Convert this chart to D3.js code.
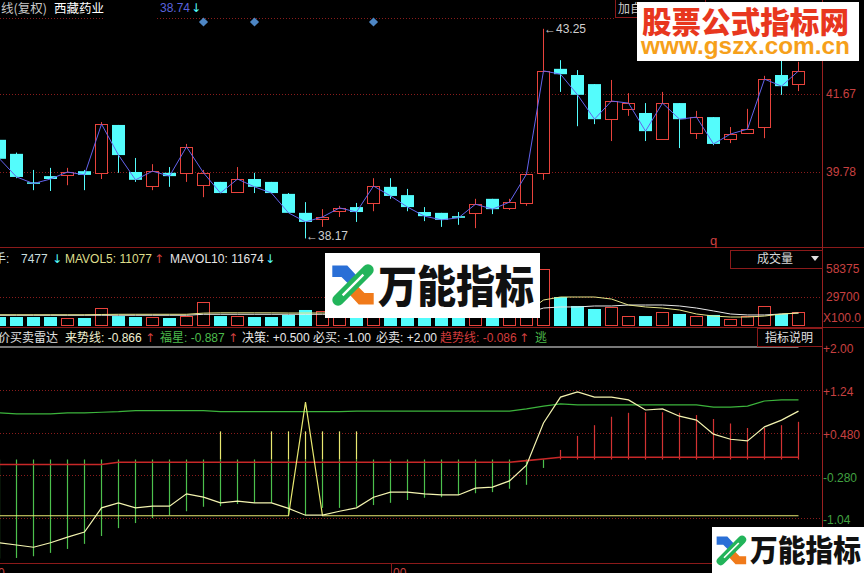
<!DOCTYPE html>
<html><head><meta charset="utf-8">
<script src="https://cdn.jsdelivr.net/npm/d3@7"></script>
<style>html,body{margin:0;padding:0;background:#000;overflow:hidden}svg{display:block}</style>
</head><body>
<svg id="c" width="864" height="573"></svg>
<script>
// ---------- DATA ----------
const opens  = [40.56,40.22,39.53,39.68,39.71,39.80,39.76,40.92,39.78,39.44,39.76,39.76,39.47,39.54,39.30,39.61,39.54,39.25,38.79,38.64,38.83,38.93,39.03,39.42,39.22,38.81,38.79,38.71,38.79,39.13,38.91,39.03,39.76,42.28,42.13,41.91,41.06,41.31,41.21,40.58,41.45,40.73,41.11,40.58,40.73,40.87,42.13,41.91];
const highs  = [40.60,40.25,39.83,39.88,39.88,39.83,40.99,40.92,40.12,39.97,39.90,40.46,39.83,39.54,39.90,39.76,39.54,39.27,39.05,38.88,38.96,39.03,39.63,39.63,39.37,38.93,38.79,38.81,39.13,39.13,39.13,39.73,43.25,42.49,42.25,41.91,42.01,41.69,41.45,41.72,41.45,41.26,41.11,40.87,41.31,42.11,42.55,42.45];
const lows   = [40.05,39.63,39.34,39.32,39.46,39.34,39.61,39.76,39.54,39.34,39.42,39.54,39.17,39.27,39.30,39.27,39.27,38.79,38.17,38.45,38.69,38.57,38.83,39.13,38.83,38.59,38.45,38.50,38.42,38.76,38.86,38.96,39.59,41.72,40.89,40.94,40.53,41.14,40.53,40.58,40.36,40.58,40.43,40.48,40.70,40.60,41.65,41.74];
const closes = [40.10,39.66,39.50,39.61,39.78,39.71,40.94,40.19,39.59,39.80,39.68,40.39,39.76,39.27,39.61,39.42,39.27,38.79,38.57,38.69,38.91,38.81,39.44,39.20,38.93,38.71,38.62,38.67,39.00,38.88,39.05,39.73,42.23,42.15,41.65,41.06,41.50,41.45,40.77,41.45,41.06,41.11,40.46,40.70,40.82,42.03,41.86,42.23];
const volumes = [9200,9200,9200,9200,8200,8200,18400,10200,9200,9200,8200,10200,24600,10200,10200,9200,9200,11300,16400,15400,9200,10200,13300,10200,11300,9200,9200,10200,11300,12300,9200,21500,58375,29700,20500,17400,19500,10200,10200,14300,12300,10200,11300,7200,10200,20500,12300,14300];
const mavol5  = [11500,11500,11500,11500,11500,11500,11800,12000,12000,12000,12000,12000,13200,13500,13500,13500,13500,13300,13300,13300,13300,13000,13000,12800,12500,12000,11500,11000,11000,11000,11000,14000,26600,29700,29700,29700,27600,21500,19500,18400,16400,12300,10200,9200,9200,10200,12300,13300];
const mavol10 = [11000,11000,11000,11000,11000,11000,11000,11000,11000,11000,11000,11000,12000,12000,12000,12000,12000,12000,12000,12000,12000,12000,12000,12000,12000,12000,11800,11500,11500,11500,11500,13000,18400,19500,19500,20500,20500,21500,21500,21500,20500,18400,15400,12300,11300,11300,12300,13300];

const priceTicks = [39.78, 41.67, 43.56];
const priceTickLabels = ["39.78", "41.67", ""];
const volTicks = [58375, 29700];
const volTickLabels = ["58375", "29700"];
const radarTicks = [2.00, 1.24, 0.48, -0.28, -1.04];
const radarTickLabels = ["+2.00", "+1.24", "+0.480", "-0.280", "-1.04"];

const laiShi  = [-1.48,-1.52,-1.56,-1.48,-1.38,-1.29,-0.86,-0.77,-0.86,-0.83,-0.83,-0.61,-0.67,-0.77,-0.74,-0.77,-0.77,-0.87,-0.99,-0.99,-0.92,-0.86,-0.67,-0.58,-0.58,-0.61,-0.63,-0.63,-0.51,-0.49,-0.38,-0.10,0.65,1.11,1.20,1.11,1.11,1.06,0.88,0.90,0.77,0.70,0.45,0.36,0.33,0.58,0.70,0.86];
const fuXing  = [0.83,0.81,0.81,0.81,0.83,0.83,0.84,0.85,0.87,0.87,0.87,0.87,0.87,0.85,0.85,0.85,0.85,0.85,0.85,0.85,0.85,0.86,0.86,0.86,0.86,0.86,0.86,0.86,0.86,0.86,0.86,0.90,0.95,0.99,0.97,0.97,0.97,0.97,0.97,0.97,0.97,0.97,0.93,0.93,0.95,1.04,1.06,1.06];
const trend   = [-0.09,-0.09,-0.09,-0.09,-0.09,-0.09,-0.09,-0.05,-0.05,-0.05,-0.05,-0.05,-0.05,-0.05,-0.05,-0.05,-0.05,-0.05,-0.05,-0.05,-0.05,-0.05,-0.05,-0.05,-0.05,-0.05,-0.05,-0.05,-0.05,-0.05,-0.05,-0.02,0.01,0.04,0.04,0.04,0.04,0.04,0.04,0.04,0.04,0.04,0.04,0.04,0.04,0.04,0.04,0.04];
const hist    = [-1.76,-1.75,-1.72,-1.66,-1.59,-1.50,-1.36,-1.22,-1.13,-1.04,-0.99,-0.92,-0.84,-0.83,-0.79,-0.77,-0.77,-0.99,-0.99,-0.86,-0.86,-0.84,-0.81,-0.77,-0.72,-0.68,-0.67,-0.63,-0.60,-0.58,-0.52,-0.45,-0.15,0.17,0.42,0.61,0.76,0.83,0.84,0.84,0.83,0.79,0.72,0.64,0.56,0.56,0.61,0.67];
const biMai   = [-1,-1,-1,-1,-1,-1,-1,-1,-1,-1,-1,-1,-1,-1,-1,-1,-1,-1,1.02,-1,-1,-1,-1,-1,-1,-1,-1,-1,-1,-1,-1,-1,-1,-1,-1,-1,-1,-1,-1,-1,-1,-1,-1,-1,-1,-1,-1,-1];
const biMaiSell = 2.00;
const signalIdx = [13,16,17,18,19,20,21];
const signalVal = 0.5;
const markIdx = [12,15,22];

// ---------- SETUP ----------
const F = '"Liberation Sans", Arial, "Noto Sans CJK SC", sans-serif';
const FC = '"Noto Sans CJK SC", "Liberation Sans", sans-serif';
const RED = '#e8433c', CYAN = '#54fcfc', GRID = '#8a1c1c', AXR = '#c84040', GRN = '#4cc04c';
const svg = d3.select('#c');
svg.append('rect').attr('width',864).attr('height',573).attr('fill','#000');

const idx = d3.range(closes.length);
const x = d3.scaleLinear().domain([0, idx.length-1]).range([-1, 798]);
const X = i => Math.round(x(i));
const yP = d3.scaleLinear().domain([37.89, 43.56]).range([250, 16]);
const yV = d3.scaleLinear().domain([0, 58375]).range([326, 269]);
const yR = d3.scaleLinear().domain([-1.04, 2.00]).range([518, 347]);

function dotted(y, x1, x2){
  svg.append('line').attr('x1',x1).attr('x2',x2).attr('y1',Math.round(y)+0.5).attr('y2',Math.round(y)+0.5)
    .attr('stroke',GRID).attr('stroke-dasharray','1,2');
}
function solid(x1,y1,x2,y2,c){
  svg.append('line').attr('x1',x1).attr('y1',y1).attr('x2',x2).attr('y2',y2).attr('stroke',c||'#8b1a1a');
}
function txt(t,xx,yy,col,size,fam,anchor){
  return svg.append('text').attr('x',xx).attr('y',yy).attr('fill',col).attr('font-size',size||12)
    .attr('font-family',fam||F).attr('text-anchor',anchor||'start').text(t);
}

// ---------- GRID / FRAME ----------
priceTicks.forEach((t,k)=>{
  if(k===2){ dotted(yP(t)+2,0,103); dotted(yP(t)+2,157,615); }
  else dotted(yP(t),0,822);
});
dotted(297,0,822);
radarTicks.slice(1).forEach(t=>dotted(yR(t),0,822));
solid(0,247.5,864,247.5);
solid(0,327.5,864,327.5);
solid(0,563.5,864,563.5);
solid(822.5,0,822.5,563.5,'#9a2020');
solid(391.5,563,391.5,573);

// ---------- MAIN CANDLES ----------
const gC = svg.append('g');
idx.forEach(i=>{
  const o=opens[i], c=closes[i], h=highs[i], l=lows[i];
  const up = c >= o;
  const xc = X(i);
  const yt = yP(Math.max(o,c)), yb = yP(Math.min(o,c));
  const bh = Math.max(1, yb-yt);
  if(up){
    gC.append('line').attr('x1',xc+0.5).attr('x2',xc+0.5).attr('y1',yP(h)).attr('y2',yt).attr('stroke',RED);
    gC.append('line').attr('x1',xc+0.5).attr('x2',xc+0.5).attr('y1',yt+bh).attr('y2',yP(l)).attr('stroke',RED);
    gC.append('rect').attr('x',xc-5.5).attr('y',Math.round(yt)+0.5).attr('width',12).attr('height',Math.max(1,Math.round(bh)))
      .attr('fill','#000').attr('stroke',RED);
  } else {
    gC.append('line').attr('x1',xc+0.5).attr('x2',xc+0.5).attr('y1',yP(h)).attr('y2',yP(l)).attr('stroke',CYAN);
    gC.append('rect').attr('x',xc-6).attr('y',yt).attr('width',13).attr('height',Math.max(1.5,bh)).attr('fill',CYAN);
  }
});
svg.append('path').attr('d', d3.line().x(i=>X(i)+0.5).y(i=>yP(closes[i]))(idx))
  .attr('fill','none').attr('stroke','#6464ee').attr('stroke-width',1);

// diamonds
markIdx.forEach(i=>{
  svg.append('path').attr('d', d3.symbol(d3.symbolSquare, 42)())
    .attr('transform',`translate(${X(i)+0.5},22) rotate(45)`).attr('fill','#4d86c4');
});

// extremes
const iMax = d3.maxIndex(highs), iMin = d3.minIndex(lows);
txt('←'+highs[iMax].toFixed(2), X(iMax)+1, yP(highs[iMax])+4, '#cfcfcf', 12);
txt('←'+lows[iMin].toFixed(2), X(iMin)+1, yP(lows[iMin])+2, '#cfcfcf', 12);

// price axis
{
  const ax = d3.axisRight(yP).tickValues(priceTicks.slice(0,2)).tickSize(0).tickPadding(4).tickFormat((d,k)=>priceTickLabels[k]);
  const g = svg.append('g').attr('transform','translate(822,0)').call(ax);
  g.select('.domain').remove();
  g.selectAll('text').attr('font-family',F).attr('font-size',12).attr('fill',AXR);
}

// header
svg.append('rect').attr('x',615.5).attr('y',-1).attr('width',90).attr('height',18.5).attr('fill','#000').attr('stroke','#8b1a1a');
txt('加自',618,13,'#c8c8c8',12,FC);
txt('线(复权)',1,13,'#c8c8c8',12.5,FC);
txt('西藏药业',54,13,'#ffffff',12.5,FC);
txt('38.74',160,12,'#5a62dc',12);
txt('↓',191,12,CYAN,12,'DejaVu Sans');
txt('q',710,245,'#d04040',13);

// ---------- VOLUME ----------
const gV = svg.append('g');
idx.forEach(i=>{
  const up = closes[i] >= opens[i];
  const xc = X(i), yt = yV(volumes[i]), h = yV(0)-yt;
  if(up) gV.append('rect').attr('x',xc-5.5).attr('y',Math.round(yt)+0.5).attr('width',12).attr('height',Math.round(h)-1)
      .attr('fill','#000').attr('stroke',RED);
  else gV.append('rect').attr('x',xc-6).attr('y',yt).attr('width',13).attr('height',h).attr('fill',CYAN);
});
svg.append('path').attr('d', d3.line().x(i=>X(i)+0.5).y(i=>yV(mavol10[i]))(idx)).attr('fill','none').attr('stroke','#e8e8e8');
svg.append('path').attr('d', d3.line().x(i=>X(i)+0.5).y(i=>yV(mavol5[i]))(idx)).attr('fill','none').attr('stroke','#e6e68a');
{
  const ax = d3.axisRight(yV).tickValues(volTicks).tickSize(0).tickPadding(4).tickFormat((d,k)=>volTickLabels[k]);
  const g = svg.append('g').attr('transform','translate(822,0)').call(ax);
  g.select('.domain').remove();
  g.selectAll('text').attr('font-family',F).attr('font-size',12).attr('fill',AXR);
}
txt('X100.0',823,322,AXR,12);
svg.append('rect').attr('x',730.5).attr('y',250.5).attr('width',92).attr('height',18).attr('fill','#000').attr('stroke','#8b1a1a');
txt('成交量',757,263,'#d8d8d8',12,FC);
svg.append('path').attr('d','M811,256 L819,256 L815,261 Z').attr('fill','#e0e0e0');
txt('总手:',-18,263,'#c8dede',12,F);
txt('7477',21,263,'#c8dede',12);
txt('↓',52,263,CYAN,12,'DejaVu Sans');
txt('MAVOL5: 11077',65,263,'#dede8c',12);
txt('↑',154,263,'#d04040',12,'DejaVu Sans');
txt('MAVOL10: 11674',170,263,'#e6e6e6',12);
txt('↓',265,263,CYAN,12,'DejaVu Sans');

// ---------- RADAR INDICATOR ----------
const gR = svg.append('g');
idx.forEach(i=>{
  const v = hist[i];
  gR.append('line').attr('x1',X(i)+0.5).attr('x2',X(i)+0.5).attr('y1',yR(0)).attr('y2',yR(v))
    .attr('stroke', v<0 ? GRN : '#d23232').attr('stroke-width',1.2);
});
signalIdx.forEach(i=>{
  gR.append('line').attr('x1',X(i)+0.5).attr('x2',X(i)+0.5).attr('y1',yR(0)).attr('y2',yR(signalVal))
    .attr('stroke','#e8e870').attr('stroke-width',1.2);
});
const lineR = arr => d3.line().x(i=>X(i)+0.5).y(i=>yR(arr[i]))(idx);
svg.append('path').attr('d',lineR(fuXing)).attr('fill','none').attr('stroke','#3cb43c').attr('stroke-width',1.2);
svg.append('path').attr('d',lineR(trend)).attr('fill','none').attr('stroke','#c82828').attr('stroke-width',1.6);
svg.append('path').attr('d',lineR(idx.map(()=>biMaiSell))).attr('fill','none').attr('stroke','#f0f0f0').attr('stroke-width',1.2);
svg.append('path').attr('d',lineR(biMai)).attr('fill','none').attr('stroke','#e8e870').attr('stroke-width',1.2);
svg.append('path').attr('d',lineR(laiShi)).attr('fill','none').attr('stroke','#f4f4b0').attr('stroke-width',1.2);
{
  const ax = d3.axisRight(yR).tickValues(radarTicks).tickSize(0).tickPadding(1).tickFormat((d,k)=>radarTickLabels[k]);
  const g = svg.append('g').attr('transform','translate(822,2)').call(ax);
  g.select('.domain').remove();
  g.selectAll('text').attr('font-family',F).attr('font-size',12).attr('fill',d=> d>=0 ? AXR : '#40a040');
}
svg.append('rect').attr('x',757.5).attr('y',328.5).attr('width',65).attr('height',18).attr('fill','#000').attr('stroke','#8b1a1a');
txt('指标说明',765,342,'#e0e0e0',12,FC);
txt('价买卖雷达',-2,342,'#e0e0e0',12,FC);
txt('来势线: -0.866',65,342,'#f0f0d0',12);
txt('↑',145,342,'#d04040',12,'DejaVu Sans');
txt('福星: -0.887',160,342,'#4cbc4c',12);
txt('↑',228,342,'#d04040',12,'DejaVu Sans');
txt('决策: +0.500',242,342,'#e8e8e8',12);
txt('必买: -1.00',313,342,'#e8e8e8',12);
txt('必卖: +2.00',376,342,'#e8e8e8',12);
txt('趋势线: -0.086',440,342,'#d23c3c',12);
txt('↑',519,342,'#d04040',12,'DejaVu Sans');
txt('逃',535,342,'#4cbc4c',12,FC);
txt('0',-2,577,'#c84040',12);
txt('00',393,577,'#c84040',12);

// ---------- WATERMARKS ----------
function logo(x0,y0,s){
  const g = svg.append('g').attr('transform',`translate(${x0},${y0}) scale(${s})`);
  g.append('path').attr('d','M2,3 L15,3 L26,15 L19,22 L10,13 L2,13 Z').attr('fill','#2a6fd6');
  g.append('path').attr('d','M38,37 L25,37 L14,25 L21,18 L30,27 L38,27 Z').attr('fill','#f07a1a');
  g.append('line').attr('x1',7).attr('y1',33).attr('x2',33).attr('y2',7).attr('stroke','#22b45a').attr('stroke-width',10).attr('stroke-linecap','round');
  g.append('line').attr('x1',11).attr('y1',29).attr('x2',29).attr('y2',11).attr('stroke','#ffffff').attr('stroke-width',2);
}
svg.append('rect').attr('x',637).attr('y',2).attr('width',222).attr('height',59).attr('fill','#fff');
txt('股票公式指标网',642,33,'#e8371e',30,FC).attr('font-weight',900).attr('textLength',207).attr('lengthAdjust','spacingAndGlyphs');
txt('www.gszx.com.cn',641,54,'#f6a01a',24,F).attr('font-weight',700).attr('textLength',209).attr('lengthAdjust','spacingAndGlyphs');

svg.append('rect').attr('x',325).attr('y',253).attr('width',215).attr('height',65).attr('fill','#fff');
logo(330,262,1.15);
txt('万能指标',378,303,'#111',44,FC).attr('font-weight',900).attr('textLength',156).attr('lengthAdjust','spacingAndGlyphs');

svg.append('rect').attr('x',712).attr('y',527).attr('width',152).attr('height',46).attr('fill','#fff');
logo(715,534,0.82);
txt('万能指标',750,561,'#111',30,FC).attr('font-weight',900).attr('textLength',111).attr('lengthAdjust','spacingAndGlyphs');
</script>
</body></html>
